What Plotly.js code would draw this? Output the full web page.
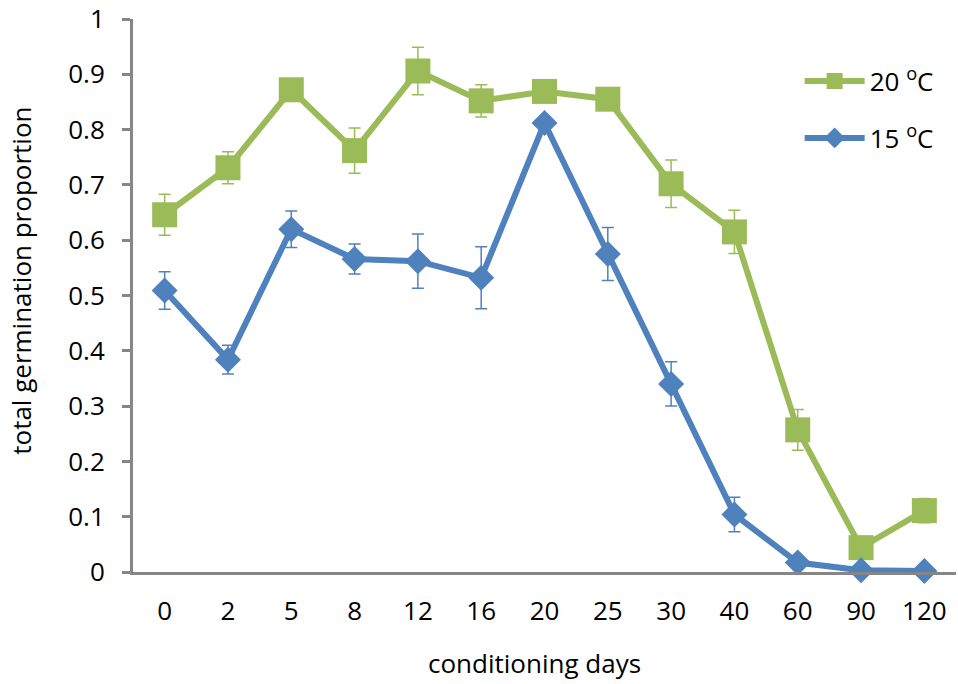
<!DOCTYPE html>
<html>
<head>
<meta charset="utf-8">
<script src="https://cdn.plot.ly/plotly-3.0.1.min.js"></script>
<style>
  html, body { margin: 0; padding: 0; background: #fff; }
  #chart { width: 958px; height: 684px; }
</style>
</head>
<body>
<div id="chart"></div>
<script>
// Conditioning period (days) on the category axis
const days = ['0', '2', '5', '8', '12', '16', '20', '25', '30', '40', '60', '90', '120'];

// Total germination proportion at 20 °C and its error
const germ20 = [0.646, 0.731, 0.872, 0.762, 0.906, 0.852, 0.869, 0.855, 0.702, 0.615, 0.257, 0.044, 0.111];
const err20  = [0.037, 0.029, 0.010, 0.041, 0.043, 0.029, 0.010, 0.010, 0.043, 0.039, 0.037, 0.010, 0.022];

// Total germination proportion at 15 °C and its error
const germ15 = [0.509, 0.384, 0.620, 0.566, 0.562, 0.532, 0.812, 0.575, 0.340, 0.104, 0.017, 0.003, 0.002];
const err15  = [0.034, 0.026, 0.033, 0.027, 0.049, 0.056, 0.010, 0.048, 0.040, 0.031, 0.005, 0.002, 0.002];

const yTicks = [0, 0.1, 0.2, 0.3, 0.4, 0.5, 0.6, 0.7, 0.8, 0.9, 1];
const yTickText = ['0', '0.1', '0.2', '0.3', '0.4', '0.5', '0.6', '0.7', '0.8', '0.9', '1'];

const green = '#9BBB59';
const blue = '#4F81BD';
const axisGrey = '#868686';
const font = '"Open Sans", Lato, sans-serif';

const traces = [
  {
    x: days, y: germ20, name: '20 <sup>o</sup>C', legendgroup: 'g20',
    type: 'scatter', mode: 'lines+markers', cliponaxis: false,
    line: { color: green, width: 6 },
    marker: { symbol: 'square', size: 25, color: green },
    error_y: { type: 'data', array: err20, visible: true, color: green, thickness: 1.5, width: 6 }
  },
  {
    x: days, y: germ15, name: '15 <sup>o</sup>C', legendgroup: 'g15',
    type: 'scatter', mode: 'lines+markers', cliponaxis: false,
    line: { color: blue, width: 6 },
    marker: { symbol: 'diamond', size: 20, color: blue },
    error_y: { type: 'data', array: err15, visible: true, color: blue, thickness: 1.5, width: 6 }
  }
];

const layout = {
  width: 958, height: 684,
  margin: { l: 133, r: 2, t: 19, b: 111.5 },
  paper_bgcolor: '#fff', plot_bgcolor: '#fff',
  font: { family: font, size: 26, color: '#000' },
  showlegend: true,
  legend: {
    x: 0.81, y: 0.93, xanchor: 'left', yanchor: 'top',
    font: { family: font, size: 26, color: '#000' },
    itemwidth: 60,
    tracegroupgap: 20, bgcolor: 'rgba(0,0,0,0)'
  },
  xaxis: {
    type: 'category', range: [-0.5, 12.5],
    showline: true, linecolor: axisGrey, linewidth: 3,
    ticks: '', showgrid: false, zeroline: false,
    ticklabelstandoff: 14,
    tickfont: { family: font, size: 26, color: '#000' },
    fixedrange: true
  },
  yaxis: {
    range: [0, 1],
    tickvals: yTicks, ticktext: yTickText,
    showline: true, linecolor: axisGrey, linewidth: 3,
    ticks: 'outside', ticklen: 8, tickwidth: 3, tickcolor: axisGrey,
    showgrid: false, zeroline: false,
    ticklabelstandoff: 12,
    tickfont: { family: font, size: 26, color: '#000' },
    fixedrange: true
  },
  annotations: [
    {
      text: 'conditioning days', xref: 'paper', yref: 'paper',
      x: (534 - 133) / 823, y: -(664 - 572.5) / 553.5,
      xanchor: 'center', yanchor: 'middle', showarrow: false,
      font: { family: font, size: 26, color: '#000' }
    },
    {
      text: 'total germination proportion', xref: 'paper', yref: 'paper',
      x: (21 - 133) / 823, y: (572.5 - 281) / 553.5,
      xanchor: 'center', yanchor: 'middle', showarrow: false, textangle: -90,
      font: { family: font, size: 26, color: '#000' }
    }
  ]
};

Plotly.newPlot('chart', traces, layout, { displayModeBar: false, staticPlot: true });
</script>
</body>
</html>
